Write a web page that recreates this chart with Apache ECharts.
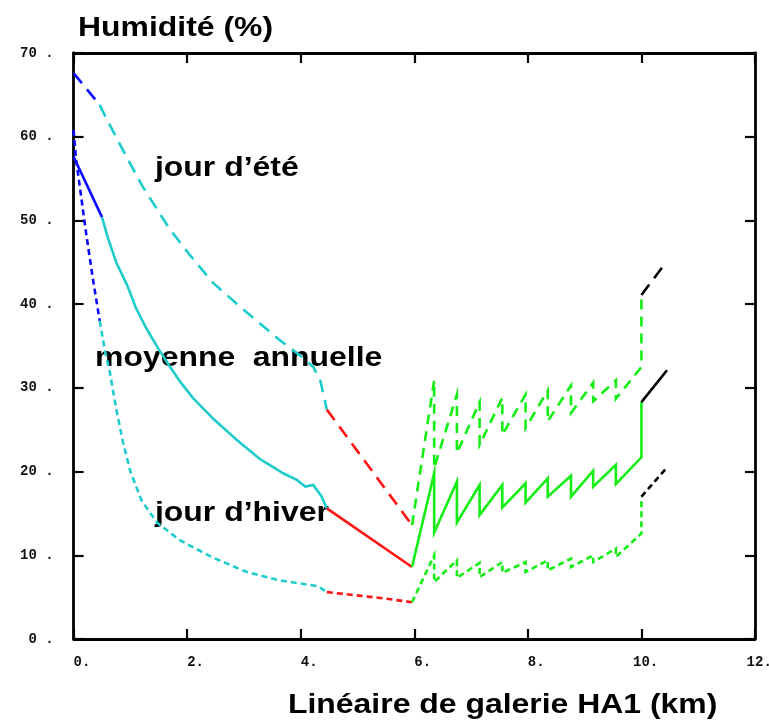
<!DOCTYPE html>
<html>
<head>
<meta charset="utf-8">
<script src="https://cdn.jsdelivr.net/npm/echarts@6/dist/echarts.min.js"></script>
<style>
  html, body { margin: 0; padding: 0; background: #fff; }
  #chart { width: 769px; height: 723px; }
</style>
</head>
<body>
<div id="chart"></div>
<script>
// Humidity along the HA1 gallery (km) — summer day, annual mean, winter day.

// Axis ticks
const xTicks = [0, 2, 4, 6, 8, 10, 12];
const yTicks = [0, 10, 20, 30, 40, 50, 60, 70];

// Summer day (long dashes)
const summerBlue = [[0, 67.6], [0.46, 63.8]];
const summerCyan = [[0.46, 63.8], [0.59, 62.0], [0.9, 58.0], [1.22, 54.0], [1.5, 51.0], [1.7, 48.9],
  [2.02, 46.1], [2.46, 42.5], [3.0, 39.3], [3.63, 35.7], [4.0, 33.8], [4.22, 32.5], [4.34, 31.0], [4.46, 27.4]];
const summerRed = [[4.46, 27.4], [5.96, 13.6]];
const summerGreenStart = [5.96, 13.6];
const summerPeaks = [30.9, 29.2, 28.3, 28.8, 29.2, 29.7, 30.3, 30.6, 30.9];
const summerTroughs = [20.4, 22.2, 23.2, 24.4, 25.2, 26.0, 27.0, 28.4, 28.7];
const summerEnd = [32.5, 41.1];
const summerBlack = [[10, 41.1], [10.4, 44.7]];

// Annual mean (solid)
const meanBlue = [[0, 57.6], [0.5, 50.4]];
const meanCyan = [[0.5, 50.4], [0.6, 48.0], [0.75, 45.0], [0.94, 42.3], [1.1, 39.5], [1.29, 37.0],
  [1.5, 34.6], [1.7, 32.5], [1.87, 30.8], [2.1, 28.8], [2.46, 26.3], [2.87, 23.8], [3.28, 21.5],
  [3.5, 20.6], [3.69, 19.8], [3.93, 19.0], [4.08, 18.2], [4.22, 18.4], [4.37, 17.0], [4.46, 15.6]];
const meanRed = [[4.46, 15.6], [5.96, 8.6]];
const meanGreenStart = [5.96, 8.6];
const meanPeaks = [19.8, 18.8, 18.4, 18.4, 18.6, 19.2, 19.5, 20.1, 20.8];
const meanTroughs = [12.7, 13.9, 14.8, 15.7, 16.3, 17.0, 17.0, 18.2, 18.5];
const meanEnd = [21.7, 28.3];
const meanBlack = [[10, 28.3], [10.45, 32.1]];

// Winter day (short dashes)
const winterBlue = [[0, 60.8], [0.04, 57.5], [0.12, 53.5], [0.22, 48.5], [0.34, 43.0], [0.46, 38.0]];
const winterCyan = [[0.46, 38.0], [0.55, 34.5], [0.64, 31.8], [0.75, 27.5], [0.87, 23.5], [1.0, 20.0],
  [1.2, 16.5], [1.47, 13.9], [1.87, 11.8], [2.46, 9.7], [3.05, 8.0], [3.63, 7.0], [4.22, 6.4],
  [4.3, 6.3], [4.46, 5.6]];
const winterRed = [[4.46, 5.6], [5.4, 4.9], [5.96, 4.4]];
const winterGreenStart = [5.96, 4.4];
const winterPeaks = [10.0, 9.4, 9.1, 9.2, 9.2, 9.4, 9.6, 10.0, 10.8];
const winterTroughs = [6.8, 7.3, 7.4, 7.9, 8.0, 8.2, 8.6, 9.2, 9.8];
const winterEnd = [12.6, 17.0];
const winterBlack = [[10, 17.0], [10.45, 20.5]];

// Positions of the ventilation steps along the gallery
const stepX = [6.35, 6.75, 7.15, 7.55, 7.96, 8.35, 8.76, 9.15, 9.55];
const endX = 10;

// Text
const yTitle = 'Humidité (%)';
const xTitle = 'Linéaire de galerie HA1 (km)';
const labelSummer = 'jour d\u2019été';
const labelMean = 'moyenne  annuelle';
const labelWinter = 'jour d\u2019hiver';

function sawtooth(start, peaks, troughs, end) {
  const pts = [start];
  stepX.forEach((x, i) => { pts.push([x, peaks[i]]); pts.push([x, troughs[i]]); });
  pts.push([endX, end[0]]);
  pts.push([endX, end[1]]);
  return pts;
}

const COL = {
  blue: '#0a0aff', cyan: '#1fcccc', red: '#ff1414', green: '#14ee14', black: '#000000'
};
const DASH_LONG = [13, 8];
const DASH_MID = [10, 7];
const DASH_SHORT = [6, 4];
const LW = 2.6;

function line(name, data, color, type) {
  return {
    name, type: 'line', data, showSymbol: false, symbol: 'none', animation: false,
    xAxisIndex: 0, yAxisIndex: 0, silent: true,
    lineStyle: { color, width: LW, type: type || 'solid', cap: 'butt', join: 'miter' }
  };
}

const series = [
  line('summerBlue', summerBlue, COL.blue, DASH_LONG),
  line('summerCyan', summerCyan, COL.cyan, DASH_LONG),
  line('summerRed', summerRed, COL.red, DASH_LONG),
  line('summerGreen', sawtooth(summerGreenStart, summerPeaks, summerTroughs, summerEnd), COL.green, DASH_MID),
  line('summerBlack', summerBlack, COL.black, DASH_LONG),

  line('meanBlue', meanBlue, COL.blue),
  line('meanCyan', meanCyan, COL.cyan),
  line('meanRed', meanRed, COL.red),
  line('meanGreen', sawtooth(meanGreenStart, meanPeaks, meanTroughs, meanEnd), COL.green),
  line('meanBlack', meanBlack, COL.black),

  line('winterBlue', winterBlue, COL.blue, DASH_SHORT),
  line('winterCyan', winterCyan, COL.cyan, DASH_SHORT),
  line('winterRed', winterRed, COL.red, DASH_SHORT),
  line('winterGreen', sawtooth(winterGreenStart, winterPeaks, winterTroughs, winterEnd), COL.green, DASH_SHORT),
  line('winterBlack', winterBlack, COL.black, DASH_SHORT)
];

const axisLine = { show: true, onZero: false, lineStyle: { color: '#000', width: 2.8 } };
const axisTick = { show: true, inside: true, length: 10, lineStyle: { color: '#000', width: 2.2 } };
const tickFont = { fontFamily: '"Liberation Mono", "DejaVu Sans Mono", monospace', fontWeight: 'bold', fontSize: 14, color: '#111' };

// x labels: monospaced, the units digit sits on the tick ("  0.", " 10.")
function xLabel(v) {
  const s = String(v) + '.';
  return (s.length < 3 ? '  ' : ' ') + s;
}

const TXT = 'bold 28px "Liberation Sans", Arial, sans-serif';
const SX = 1.14;
function label(text, x, y) {
  return {
    type: 'text', x, y, scaleX: SX, silent: true,
    style: { text, font: TXT, fill: '#000', textAlign: 'left', textVerticalAlign: 'middle' }
  };
}

const chart = echarts.init(document.getElementById('chart'), null, { renderer: 'canvas' });
chart.setOption({
  animation: false,
  backgroundColor: '#fff',
  grid: { left: 73.6, right: 14, top: 53, bottom: 84, containLabel: false, outerBoundsMode: 'none' },
  xAxis: [
    {
      type: 'value', min: xTicks[0], max: xTicks[xTicks.length - 1], interval: 2, position: 'bottom',
      axisLine, axisTick, splitLine: { show: false },
      axisLabel: Object.assign({ margin: 16, align: 'center', formatter: xLabel, hideOverlap: false }, tickFont)
    },
    {
      type: 'value', min: xTicks[0], max: xTicks[xTicks.length - 1], interval: 2, position: 'top',
      axisLine, axisTick, splitLine: { show: false }, axisLabel: { show: false }
    }
  ],
  yAxis: [
    {
      type: 'value', min: yTicks[0], max: yTicks[yTicks.length - 1], interval: 10, position: 'left',
      axisLine, axisTick, splitLine: { show: false },
      axisLabel: Object.assign({ margin: 20, formatter: v => v + ' .' }, tickFont)
    },
    {
      type: 'value', min: yTicks[0], max: yTicks[yTicks.length - 1], interval: 10, position: 'right',
      axisLine, axisTick, splitLine: { show: false }, axisLabel: { show: false }
    }
  ],
  graphic: [
    label(yTitle, 78, 28),
    label(xTitle, 288, 705),
    label(labelSummer, 155, 168),
    label(labelMean, 95, 358),
    label(labelWinter, 155, 513)
  ],
  series
});
</script>
</body>
</html>
